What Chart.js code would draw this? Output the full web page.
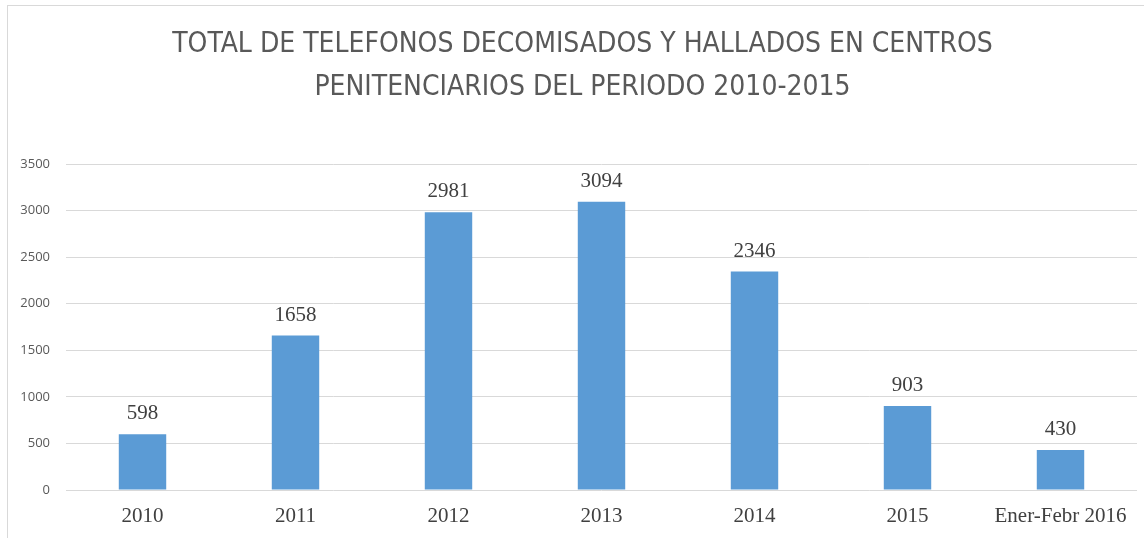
<!DOCTYPE html>
<html>
<head>
<meta charset="utf-8">
<script src="https://cdn.jsdelivr.net/npm/chart.js@4"></script>
<style>
    html, body { margin: 0; padding: 0; background: #fff; }
    #wrap { position: relative; width: 1144px; height: 538px; }
    #frame { position: absolute; left: 7px; top: 5px; right: -2px; bottom: -2px; border-left: 1px solid #d9d9d9; border-top: 1px solid #d9d9d9; }
    #chart { position: absolute; left: 0; top: 0; }
</style>
</head>
<body>
<div id="wrap">
    <div id="frame"></div>
    <canvas id="chart" width="1144" height="538"></canvas>
</div>
<script>
(function() {
    'use strict';

    const categories = ['2010', '2011', '2012', '2013', '2014', '2015', 'Ener-Febr 2016'];
    const totals = [598, 1658, 2981, 3094, 2346, 903, 430];
    const yMax = 3500;
    const yStep = 500;

    const titleLines = [
        'TOTAL DE TELEFONOS DECOMISADOS Y HALLADOS EN CENTROS',
        'PENITENCIARIOS DEL PERIODO 2010-2015'
    ];

    const serif = '"Liberation Serif", "Times New Roman", serif';
    const titleFont = '28px "Liberation Sans Narrow", "DejaVu Sans Condensed", "Open Sans", sans-serif';

    // Title drawn by hand: it sits a little right of the canvas centre
    const chartTitle = {
        id: 'chartTitle',
        afterDraw: function(chart) {
            const ctx = chart.ctx;
            const cx = (chart.width + 21) / 2;
            ctx.save();
            ctx.font = titleFont;
            ctx.fillStyle = '#595959';
            ctx.textAlign = 'center';
            ctx.textBaseline = 'middle';
            titleLines.forEach(function(line, i) {
                ctx.fillText(line, cx, 45 + i * 43);
            });
            ctx.restore();
        }
    };

    // Value labels above each bar
    const barLabels = {
        id: 'barLabels',
        afterDatasetsDraw: function(chart) {
            const ctx = chart.ctx;
            const meta = chart.getDatasetMeta(0);
            ctx.save();
            ctx.font = '21px ' + serif;
            ctx.fillStyle = '#404040';
            ctx.textAlign = 'center';
            ctx.textBaseline = 'bottom';
            meta.data.forEach(function(bar, i) {
                ctx.fillText(String(totals[i]), bar.x, bar.y - 10);
            });
            ctx.restore();
        }
    };

    new Chart(document.getElementById('chart'), {
        type: 'bar',
        data: {
            labels: categories,
            datasets: [{
                data: totals,
                backgroundColor: '#5b9bd5',
                borderWidth: 0,
                barPercentage: 1,
                categoryPercentage: 0.31
            }]
        },
        options: {
            responsive: false,
            animation: false,
            layout: { padding: { left: 0, right: 7, top: 164, bottom: 0 } },
            plugins: {
                legend: { display: false },
                tooltip: { enabled: false },
                title: { display: false }
            },
            scales: {
                x: {
                    grid: { display: false, drawTicks: false },
                    border: { display: false },
                    ticks: {
                        color: '#404040',
                        font: { family: serif, size: 21 },
                        padding: 14,
                        maxRotation: 0,
                        autoSkip: false
                    },
                    afterFit: function(scale) { scale.height = 48; }
                },
                y: {
                    min: 0,
                    max: yMax,
                    grid: { color: '#d9d9d9', drawTicks: false },
                    border: { display: false },
                    ticks: {
                        stepSize: yStep,
                        color: '#595959',
                        font: { family: '"Open Sans", sans-serif', size: 13 },
                        padding: 16,
                        callback: function(value) { return String(value); }
                    },
                    afterFit: function(scale) { scale.width = 66; }
                }
            }
        },
        plugins: [barLabels, chartTitle]
    });
})();
</script>
</body>
</html>
